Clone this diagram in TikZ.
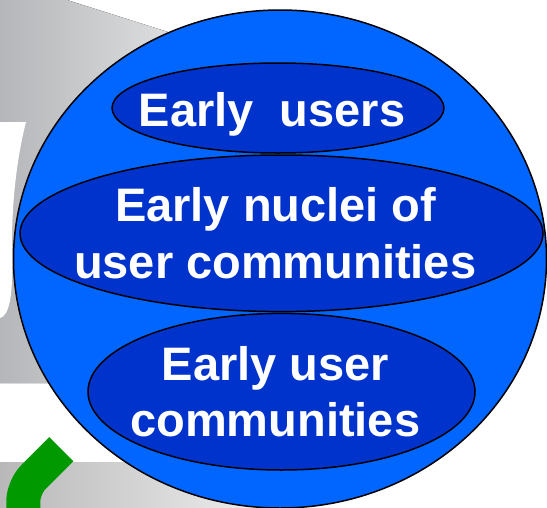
\documentclass[tikz,border=0pt]{standalone}
\usepackage{fontspec}
\setmainfont{Liberation Sans}
\usetikzlibrary{shapes.geometric}
\definecolor{outerblue}{HTML}{0066FF}
\definecolor{innerblue}{HTML}{0033CC}
\definecolor{leafgreen}{HTML}{009900}
\definecolor{greydark}{HTML}{B4B6B9}
\definecolor{greylight}{HTML}{F0F0F0}
\definecolor{bandgrey}{HTML}{B8B8B8}
\tikzset{
  bigball/.style={ellipse, draw=black, line width=1.5pt, fill=outerblue, inner sep=0pt},
  zone/.style={ellipse, draw=black, line width=1.5pt, fill=innerblue, inner sep=0pt},
  label/.style={anchor=base, text=white, font=\fontsize{47}{56}\selectfont\bfseries, inner sep=0pt},
}
\begin{document}
\begin{tikzpicture}[x=1pt, y=-1pt]
\useasboundingbox (0,0) rectangle (547,507);
\clip (0,0) rectangle (547,507);
% background grey shape
\fill[left color=greydark, right color=greylight]
  (0,0) -- (67,0) -- (250,58) -- (250,383) -- (0,383) -- cycle;
\fill[white] (0,122) -- (26,122) .. controls (15,165) and (11,215) .. (12,262)
  .. controls (13,300) and (8,316) .. (0,318) -- cycle;
% bottom band
\fill[left color=bandgrey, right color=white] (0,462) rectangle (350,507);
% green stroke
\coordinate (g1) at (61.3,449.2);
\coordinate (g2) at (23.3,487.2);
\coordinate (g3) at (23.3,530);
\draw[leafgreen, line width=34pt, rounded corners=14pt] (g1) -- (g2) -- (g3);
% big ball
\node[bigball, minimum width=533pt, minimum height=498pt] (ball) at (280,259) {};
% zones
\node[zone, minimum width=332pt, minimum height=90pt] (e1) at (278,108) {};
\node[zone, minimum width=523pt, minimum height=156.6pt] (e2) at (281.5,233.3) {};
\node[zone, minimum width=387pt, minimum height=156.6pt] (e3) at (281.5,391.7) {};
% texts
\node[label] (t1) at (272,126.7) {Early\ \ users};
\node[label] (t2a) at (275.7,221.7) {Early nuclei of};
\node[label] (t2b) at (275.2,278.3) {user communities};
\node[label] (t3a) at (275.5,380) {Early user};
\node[label] (t3b) at (275.3,436.7) {communities};
\end{tikzpicture}
\end{document}
